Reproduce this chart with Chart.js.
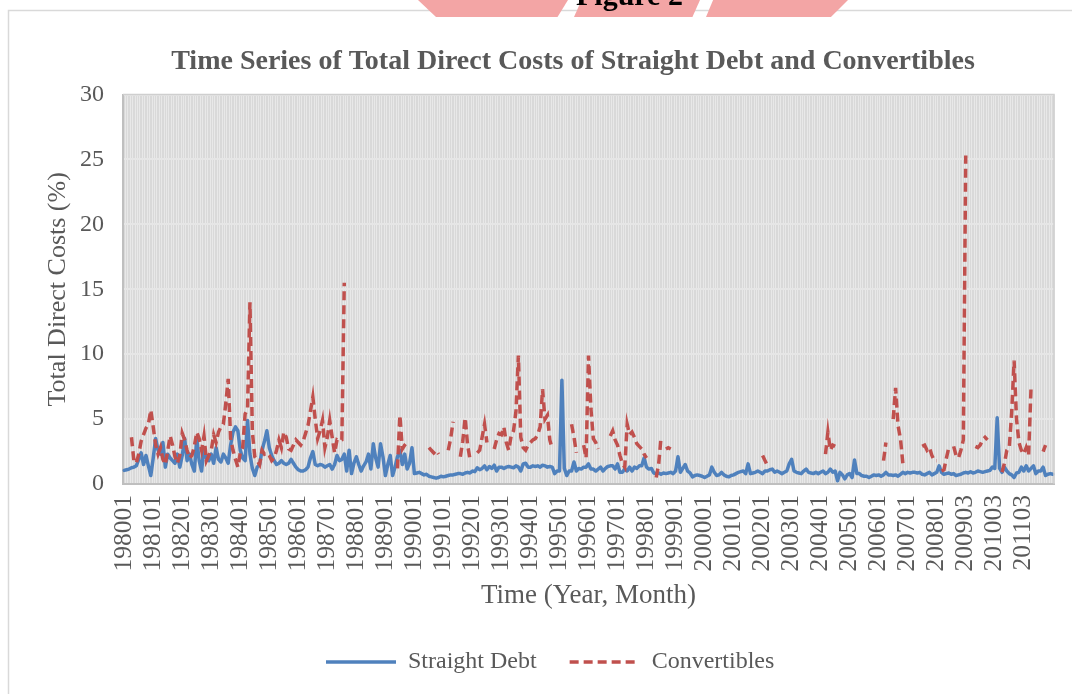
<!DOCTYPE html>
<html>
<head>
<meta charset="utf-8">
<script src="https://cdn.jsdelivr.net/npm/chart.js@4.4.1/dist/chart.umd.min.js"></script>
<style>
  html, body { margin: 0; padding: 0; background: #ffffff; }
  #wrap { position: relative; width: 1072px; height: 694px; overflow: hidden; }
  #c { position: absolute; left: 0; top: 0; }
  .pink { position: absolute; top: 0; height: 17px; background: #f3a5a5; }
  #fig { position: absolute; left: 576px; top: -22px; font-family: 'Liberation Serif', serif; font-weight: bold; font-size: 30px; color: #000; white-space: nowrap; }
</style>
</head>
<body>
<div id="wrap">
  <canvas id="c" width="1072" height="694"></canvas>
  <div class="pink" style="left:418px;width:150px;clip-path:polygon(0 0,100% 0,93% 100%,12% 100%);"></div>
  <div class="pink" style="left:574px;width:126px;clip-path:polygon(6% 0,100% 0,94% 100%,0 100%);"></div>
  <div class="pink" style="left:706px;width:142px;clip-path:polygon(5% 0,100% 0,88% 100%,0 100%);"></div>
  <div id="fig">Figure 2</div>
</div>
<script>
// ---- categories (year + month), two months of late 2008 are absent in the source ----
const firstYear = 1980;
const lastYear = 2012;
const lastMonthOfLastYear = 3;
const missingMonths = ['200811', '200812'];
const categories = [];
for (let y = firstYear; y <= lastYear; y++) {
  for (let m = 1; m <= 12; m++) {
    if (y === lastYear && m > lastMonthOfLastYear) break;
    const c = String(y) + String(m).padStart(2, '0');
    if (!missingMonths.includes(c)) categories.push(c);
  }
}

// ---- tick labels shown on the x axis ----
const tickLabels = ['198001','198101','198201','198301','198401','198501','198601','198701',
  '198801','198901','199001','199101','199201','199301','199401','199501','199601','199701',
  '199801','199901','200001','200101','200201','200301','200401','200501','200601','200701',
  '200801','200903','201003','201103'];

const yTicks = [0, 5, 10, 15, 20, 25, 30];

// ---- Straight Debt (%), monthly ----
const straightDebt = [
  1.05,1.1,1.15,1.25,1.3,1.4,1.9,2.4,1.5,2.2,1.4,0.65,      // 1980
  2.0,3.5,2.6,2.3,3.2,1.3,2.3,2.0,1.8,1.6,2.3,1.3,          // 1981
  2.2,3.5,1.8,2.3,1.5,1.0,3.5,1.8,1.0,2.8,2.0,1.8,          // 1982
  2.3,1.6,2.8,1.9,1.7,2.3,2.0,1.6,3.0,4.0,4.4,4.1,          // 1983
  2.6,2.0,1.8,4.9,2.3,1.2,0.65,1.3,1.5,2.6,3.3,4.1,         // 1984
  2.8,2.2,1.8,1.5,1.6,1.8,1.6,1.5,1.6,1.9,1.6,1.3,          // 1985
  1.1,1.0,1.0,1.1,1.3,2.0,2.5,1.5,1.4,1.5,1.45,1.3,         // 1986
  1.4,1.5,1.15,1.5,2.2,1.8,1.9,2.3,1.0,2.6,0.8,1.6,         // 1987
  2.1,1.5,1.0,1.4,1.7,2.3,1.15,3.1,2.0,1.3,3.1,2.1,         // 1988
  0.65,1.5,2.2,0.65,1.3,2.1,2.6,1.5,2.3,1.15,1.6,2.8,       // 1989
  0.8,0.85,0.9,0.8,0.7,0.75,0.6,0.55,0.5,0.45,0.5,0.6,      // 1990
  0.55,0.6,0.65,0.7,0.7,0.75,0.8,0.8,0.75,0.85,0.9,0.85,    // 1991
  1.0,0.95,1.25,1.1,1.2,1.4,1.1,1.35,1.2,1.45,1.0,1.3,      // 1992
  1.3,1.2,1.3,1.35,1.3,1.25,1.4,1.3,1.0,1.55,1.6,1.3,       // 1993
  1.3,1.4,1.35,1.4,1.3,1.45,1.4,1.3,1.35,1.3,0.8,1.0,       // 1994
  1.0,8.0,1.2,0.65,1.0,1.0,1.7,1.0,1.2,1.15,1.3,1.3,        // 1995
  1.55,1.15,1.15,1.0,1.15,1.3,1.0,1.2,1.35,1.4,1.4,1.15,    // 1996
  1.55,0.9,0.9,1.15,1.0,1.3,1.0,1.3,1.2,1.4,1.4,2.0,        // 1997
  1.3,1.15,1.2,0.85,0.8,0.85,0.75,0.85,0.8,0.85,0.9,0.8,    // 1998
  1.0,2.1,0.9,1.2,1.5,1.0,0.85,0.55,0.65,0.7,0.65,0.6,      // 1999
  0.5,0.6,0.7,1.3,0.9,0.65,0.7,0.9,0.7,0.6,0.55,0.65,       // 2000
  0.7,0.8,0.9,0.95,1.0,0.8,1.55,0.8,0.85,0.9,1.0,0.9,       // 2001
  0.8,1.0,1.0,1.1,1.15,0.9,1.0,0.9,0.8,0.9,1.0,1.55,        // 2002
  1.9,1.0,0.9,0.85,0.8,1.0,1.15,0.9,0.85,0.8,0.9,0.8,       // 2003
  0.9,1.0,0.8,0.9,1.15,0.9,1.0,0.25,0.9,0.7,0.4,0.7,        // 2004
  0.8,0.5,1.85,0.8,0.8,0.65,0.6,0.6,0.5,0.6,0.7,0.65,       // 2005
  0.7,0.6,0.7,0.9,0.7,0.7,0.65,0.7,0.6,0.75,0.9,0.8,        // 2006
  0.9,0.85,0.9,0.9,0.85,0.9,0.75,0.7,0.8,0.9,0.7,0.8,       // 2007
  0.9,1.4,0.9,0.75,0.8,0.85,0.75,0.8,0.65,0.7,              // 2008 (Jan-Oct)
  0.75,0.85,0.9,0.85,0.95,0.85,0.9,1.0,0.95,0.9,0.95,1.0,   // 2009
  1.05,1.3,1.2,5.1,1.2,0.9,1.3,1.0,0.8,0.7,0.5,0.85,        // 2010
  0.9,1.3,1.0,1.4,1.0,1.2,1.4,0.8,1.0,1.0,1.3,0.65,         // 2011
  0.75,0.8,0.75                                             // 2012 (Jan-Mar)
];

// ---- Convertibles (%), monthly; null = no issue that month ----
const convertibles = [
  null,null,null,3.6,1.8,1.6,2.3,3.3,3.8,4.3,4.6,5.7,       // 1980
  4.4,3.0,2.3,2.8,1.9,1.5,2.6,3.7,3.0,2.1,1.6,2.2,          // 1981
  3.9,3.4,2.6,2.0,2.2,2.9,4.0,3.5,2.6,3.7,1.8,2.2,          // 1982
  2.6,3.8,3.2,4.0,4.4,4.6,6.2,8.1,3.5,2.6,1.9,1.3,          // 1983
  2.4,2.8,5.4,5.8,14.0,4.0,2.1,1.8,1.5,2.6,2.3,2.4,         // 1984
  2.2,1.8,2.0,2.6,3.4,2.8,4.0,3.6,2.7,2.6,3.0,3.4,          // 1985
  3.2,3.0,3.3,3.9,4.5,5.6,6.7,5.0,3.5,4.1,4.9,2.8,          // 1986
  3.6,4.9,3.6,2.4,3.4,3.3,3.4,15.5,null,null,null,null,     // 1987
  null,null,null,null,null,null,null,null,null,null,null,null, // 1988
  null,null,null,null,null,1.2,5.3,2.7,3.0,3.2,null,null,   // 1989
  null,null,null,null,null,null,2.8,2.6,2.4,2.6,2.3,null,   // 1990
  null,null,2.6,3.5,4.8,null,null,2.1,3.3,5.1,3.0,1.9,      // 1991
  null,null,2.4,2.6,3.6,4.6,3.2,null,null,2.7,3.4,3.9,      // 1992
  3.8,4.4,3.2,2.6,3.7,4.1,5.6,9.9,3.6,2.8,2.6,3.0,          // 1993
  3.2,3.4,3.5,3.8,4.4,7.3,5.0,5.3,3.4,2.7,null,null,        // 1994
  null,null,null,null,null,4.6,3.6,2.4,null,null,3.0,2.0,   // 1995
  9.9,5.8,3.5,3.2,2.7,null,null,null,null,3.7,4.1,3.4,      // 1996
  3.0,2.2,1.6,1.3,4.6,3.8,4.0,3.6,3.1,2.9,2.7,2.3,          // 1997
  2.0,null,null,null,0.5,1.5,3.6,null,2.7,2.8,2.7,null,     // 1998
  null,null,null,null,null,null,null,null,null,null,null,null, // 1999
  null,null,null,null,null,null,null,null,null,null,null,null, // 2000
  null,null,null,null,null,null,null,null,null,null,null,null, // 2001
  2.2,1.8,1.4,null,null,null,null,null,null,null,null,null, // 2002
  null,null,null,null,null,null,null,null,null,null,null,null, // 2003
  null,null,2.3,4.0,2.6,3.0,2.9,null,null,null,null,null,   // 2004
  null,null,null,null,null,null,null,null,null,null,null,null, // 2005
  null,null,1.8,3.2,null,null,5.0,7.4,4.5,3.5,1.6,null,     // 2006
  null,null,null,null,null,null,2.9,3.0,2.6,2.8,2.2,1.8,    // 2007
  1.8,null,1.0,1.1,2.0,2.8,null,2.9,2.2,2.0,                // 2008 (Jan-Oct)
  2.6,3.4,25.3,null,null,null,2.9,2.8,3.0,3.4,3.6,3.4,      // 2009
  null,null,null,null,null,0.9,1.6,2.6,2.8,5.5,9.5,5.0,     // 2010
  3.2,2.6,2.3,2.8,2.2,7.4,null,null,null,null,2.5,3.0,      // 2011
  null,null,null                                            // 2012 (Jan-Mar)
];

const FONT = "'Liberation Serif', 'Times New Roman', serif";
const TEXT = '#595959';
const LEGEND_START_X = 326;
const TITLE_SHIFT_X = 42;

const plotBg = {
  id: 'plotBg',
  afterLayout(chart) {
    const lg = chart.legend;
    if (lg && lg.lineWidths) {
      const p = lg.options.labels.padding;
      const natural = (lg.left + p + lg.right - lg.lineWidths[0]) / 2;
      const dx = LEGEND_START_X - natural;
      lg.left += dx; lg.right += dx;
    }
    const tb = chart.titleBlock;
    if (tb) { tb.left += TITLE_SHIFT_X; tb.right += TITLE_SHIFT_X; }
  },
  beforeDraw(chart) {
    const { ctx, chartArea: a } = chart;
    ctx.save();
    ctx.strokeStyle = '#d9d9d9';
    ctx.lineWidth = 1.5;
    ctx.strokeRect(8.5, 10.5, 1100, 720);
    ctx.fillStyle = '#d9d9d9';
    ctx.fillRect(a.left, a.top, a.right - a.left, a.bottom - a.top);
    ctx.restore();
  },
  afterDraw(chart) {
    const { ctx, chartArea: a } = chart;
    ctx.save();
    ctx.strokeStyle = '#cfcfcf';
    ctx.lineWidth = 1.5;
    ctx.beginPath();
    ctx.moveTo(a.left, a.top); ctx.lineTo(a.right, a.top); ctx.lineTo(a.right, a.bottom);
    ctx.stroke();
    ctx.restore();
  }
};

new Chart(document.getElementById('c'), {
  type: 'line',
  data: {
    labels: categories,
    datasets: [
      { label: 'Straight Debt', data: straightDebt, borderColor: '#4F81BD', backgroundColor: '#4F81BD',
        borderWidth: 3.5, pointRadius: 0, tension: 0, borderJoinStyle: 'round', borderCapStyle: 'round', order: 2 },
      { label: 'Convertibles', data: convertibles, borderColor: '#C0504D', backgroundColor: '#C0504D',
        borderWidth: 3.5, borderDash: [9, 5], pointRadius: 0, tension: 0, spanGaps: false, order: 1 }
    ]
  },
  options: {
    responsive: false,
    animation: false,
    layout: { padding: { left: 8, right: 18, top: 0, bottom: 10 } },
    plugins: {
      title: {
        display: true,
        text: 'Time Series of Total Direct Costs of Straight Debt and Convertibles',
        color: TEXT,
        font: { family: FONT, size: 28, weight: 'bold' },
        padding: { top: 45, bottom: 16 }
      },
      legend: {
        position: 'bottom',
        labels: {
          usePointStyle: true,
          pointStyleWidth: 70,
          padding: 33,
          color: TEXT,
          font: { family: FONT, size: 24 },
          generateLabels(chart) {
            return chart.data.datasets.map((ds, i) => ({
              text: ds.label,
              fillStyle: ds.borderColor,
              strokeStyle: ds.borderColor,
              lineWidth: 3.5,
              lineDash: ds.borderDash || [],
              lineCap: 'butt',
              pointStyle: 'line',
              hidden: false,
              datasetIndex: i,
              fontColor: TEXT
            }));
          }
        }
      },
      tooltip: { enabled: false }
    },
    scales: {
      x: {
        type: 'category',
        offset: true,
        grid: { color: '#e8e8e8', lineWidth: 1, drawTicks: false, offset: true },
        border: { display: true, color: '#bfbfbf', width: 2 },
        ticks: {
          autoSkip: false, minRotation: 90, maxRotation: 90, padding: 11,
          color: TEXT, font: { family: FONT, size: 25.5 },
          callback(value) { const l = this.getLabelForValue(value); return tickLabels.includes(l) ? l : ''; }
        },
        title: { display: true, text: 'Time (Year, Month)', color: TEXT,
                 font: { family: FONT, size: 27 }, padding: { top: 0, bottom: 5 } },
        afterFit(scale) { scale.height = 133; scale.paddingRight = 0; scale.paddingLeft = 0; }
      },
      y: {
        min: 0, max: 30,
        grid: { color: '#e6e6e6', lineWidth: 2, drawTicks: false },
        border: { display: true, color: '#bfbfbf', width: 2 },
        ticks: {
          stepSize: 5, padding: 19, color: TEXT, font: { family: FONT, size: 24 },
          callback(v) { return yTicks.includes(v) ? String(v) : ''; }
        },
        title: { display: true, text: 'Total Direct Costs (%)', color: TEXT,
                 font: { family: FONT, size: 26 }, padding: { top: 35, bottom: 0 } },
        afterFit(scale) { scale.width = 115; }
      }
    }
  },
  plugins: [plotBg]
});
</script>
</body>
</html>
